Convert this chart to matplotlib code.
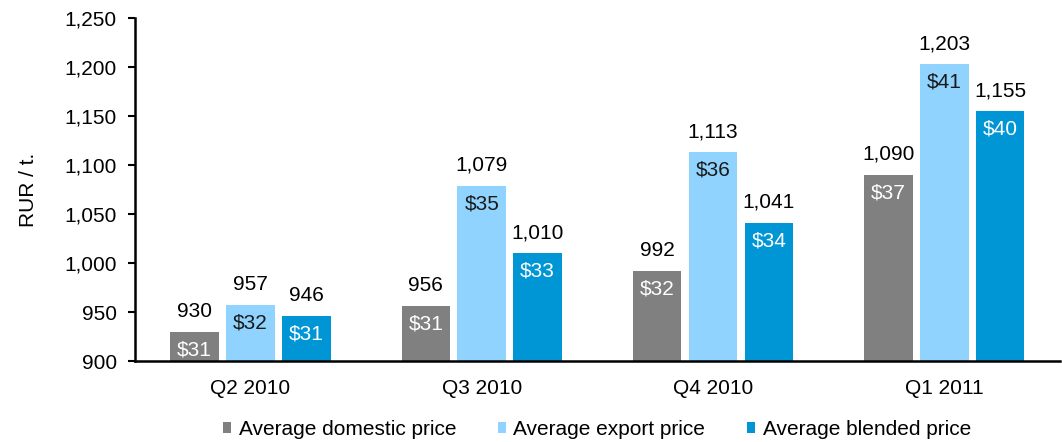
import matplotlib
matplotlib.use("Agg")
import matplotlib.pyplot as plt
import numpy as np

categories = ["Q2 2010", "Q3 2010", "Q4 2010", "Q1 2011"]
series_names = ["Average domestic price", "Average export price", "Average blended price"]
domestic = [930, 956, 992, 1090]
export = [957, 1079, 1113, 1203]
blended = [946, 1010, 1041, 1155]
domestic_usd = ["$31", "$31", "$32", "$37"]
export_usd = ["$32", "$35", "$36", "$41"]
blended_usd = ["$31", "$33", "$34", "$40"]
yticks = [900, 950, 1000, 1050, 1100, 1150, 1200, 1250]

colors = ["#808080", "#8FD3FE", "#0096D6"]
usd_colors = ["white", "#1a1a1a", "white"]

plt.rcParams['font.family'] = ['Liberation Sans', 'DejaVu Sans']
FS = 15
fig = plt.figure(figsize=(10.62, 4.42), dpi=100)
ax = fig.add_axes([0.127, 0.183, 0.871, 0.776])

x = np.arange(len(categories))
width = 0.21
step = 0.242
all_vals = [domestic, export, blended]
all_usd = [domestic_usd, export_usd, blended_usd]
bars_list = []
for i, (vals, usd) in enumerate(zip(all_vals, all_usd)):
    pos = x + (i - 1) * step
    bars = ax.bar(pos, vals, width, bottom=0, color=colors[i], label=series_names[i], zorder=2)
    bars_list.append(bars)
    for p, v, u in zip(pos, vals, usd):
        ax.annotate(f"{v:,}", (p, v), xytext=(0, 8), textcoords="offset points",
                    ha="center", va="bottom", fontsize=FS, color="black")
        ax.annotate(u, (p, v), xytext=(0, -6), textcoords="offset points",
                    ha="center", va="top", fontsize=FS, color=usd_colors[i])

ax.set_ylim(900, 1250)
ax.set_xlim(-0.5, 3.5)
ax.set_yticks(yticks)
ax.set_yticklabels([f"{t:,}" for t in yticks], fontsize=FS)
ax.set_xticks(x)
ax.set_xticklabels(categories, fontsize=FS)
ax.tick_params(axis="x", length=0, pad=13)
ax.tick_params(axis="y", length=5, width=1.5, direction="out", pad=8)
for s in ["top", "right"]:
    ax.spines[s].set_visible(False)
for s in ["left", "bottom"]:
    ax.spines[s].set_linewidth(1.8)
    ax.spines[s].set_color("black")
ax.set_ylabel("RUR / t.", fontsize=FS, labelpad=19)

leg = fig.legend(handles=bars_list, labels=series_names, loc="lower center",
                 bbox_to_anchor=(0.562, -0.035), ncol=3, frameon=False, fontsize=FS,
                 handlelength=0.4, handleheight=0.4, handletextpad=0.35, columnspacing=2.0)

fig.savefig("out.png", dpi=100)
